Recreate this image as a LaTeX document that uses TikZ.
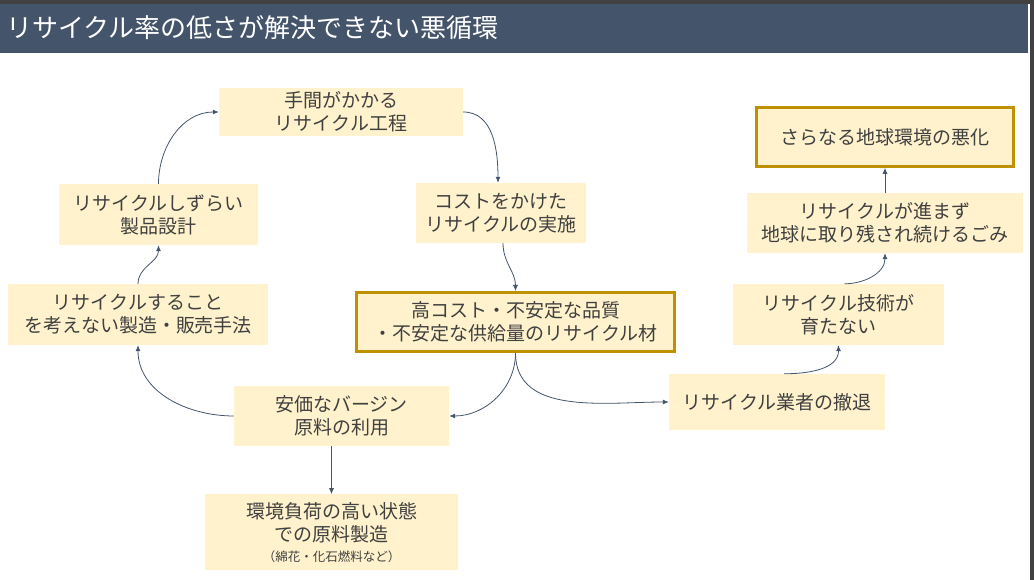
\documentclass[tikz,border=0pt]{standalone}
\usepackage{fontspec}
\setmainfont{Noto Sans CJK JP}
\usetikzlibrary{positioning,arrows.meta}
\definecolor{slate}{HTML}{44546A}
\definecolor{boxfill}{HTML}{FFF2CC}
\definecolor{gold}{HTML}{BF9000}
\definecolor{ink}{HTML}{404040}
\definecolor{frame}{HTML}{414141}

\tikzset{
  factor/.style={fill=boxfill, text=ink, inner sep=0pt, align=center,
    font=\fontsize{19}{23}\selectfont},
  outcome/.style={factor, draw=gold, line width=3pt},
  link/.style={draw=slate, line width=0.8pt, -{Latex[length=6pt,width=5pt]}},
}

\begin{document}
\begin{tikzpicture}[x=1pt, y=1pt]
  % Frame and title bar
  \useasboundingbox (0,0) rectangle (1034,580);
  \fill[frame] (0,576) rectangle (1034,580);
  \fill[frame] (1030,0) rectangle (1034,580);
  \fill[slate] (0,527) rectangle (1028,576);
  \node[anchor=west, text=white, inner sep=0pt, font=\fontsize{26}{30}\selectfont] (title) at (6,552) {リサイクル率の低さが解決できない悪循環};

  % Define nodes
  \node[factor, minimum width=244pt, minimum height=48pt] (process) at (341,468) {手間がかかる\\リサイクル工程};
  \node[factor, minimum width=199pt, minimum height=61pt] (design) at (158.5,365.5) {リサイクルしずらい\\製品設計};
  \node[factor, minimum width=260pt, minimum height=61pt] (making) at (138,265.5) {リサイクルすること\\を考えない製造・販売手法};
  \node[factor, minimum width=170pt, minimum height=60pt] (costly) at (501,367) {コストをかけた\\リサイクルの実施};
  \node[outcome, minimum width=318pt, minimum height=59pt] (material) at (515.5,258) {高コスト・不安定な品質\\・不安定な供給量のリサイクル材};
  \node[factor, minimum width=215pt, minimum height=60pt] (virgin) at (341.5,164) {安価なバージン\\原料の利用};
  \node[factor, minimum width=253pt, minimum height=76pt, below=48pt of virgin, xshift=-10pt] (production) {環境負荷の高い状態\\での原料製造\\[-3pt]{\fontsize{12.5}{15}\selectfont （綿花・化石燃料など）}};
  \node[factor, minimum width=216pt, minimum height=56pt] (withdrawal) at (777,178) {リサイクル業者の撤退};
  \node[factor, minimum width=211pt, minimum height=61pt] (technology) at (838.5,265.5) {リサイクル技術が\\育たない};
  \node[factor, minimum width=276pt, minimum height=60pt] (waste) at (885,357) {リサイクルが進まず\\地球に取り残され続けるごみ};
  \node[outcome, minimum width=257pt, minimum height=59pt, above=25pt of waste] (worse) {さらなる地球環境の悪化};

  % Connect the nodes
  \draw[link] (design.north) to[out=90, in=180] (process.west);
  \draw[link] (making.north) to[out=90, in=-90] (design.south);
  \draw[link] (virgin.west) to[out=180, in=-90] (making.south);
  \draw[link] (process.east) to[out=0, in=90] ([xshift=-3pt]costly.north);
  \draw[link] ([xshift=2pt]costly.south) to[out=-90, in=90] (material.north);
  \draw[link] (material.south) to[out=-90, in=0] (virgin.east);
  \draw[link] (material.south) to[out=-90, in=180] (withdrawal.west);
  \draw[link] ([xshift=-10pt]virgin.south) -- (production.north);
  \draw[link] ([xshift=7pt]withdrawal.north) to[out=0, in=-90] (technology.south);
  \draw[link] ([xshift=6pt]technology.north) to[out=0, in=-90] (waste.south);
  \draw[link] (waste.north) -- (worse.south);
\end{tikzpicture}
\end{document}
